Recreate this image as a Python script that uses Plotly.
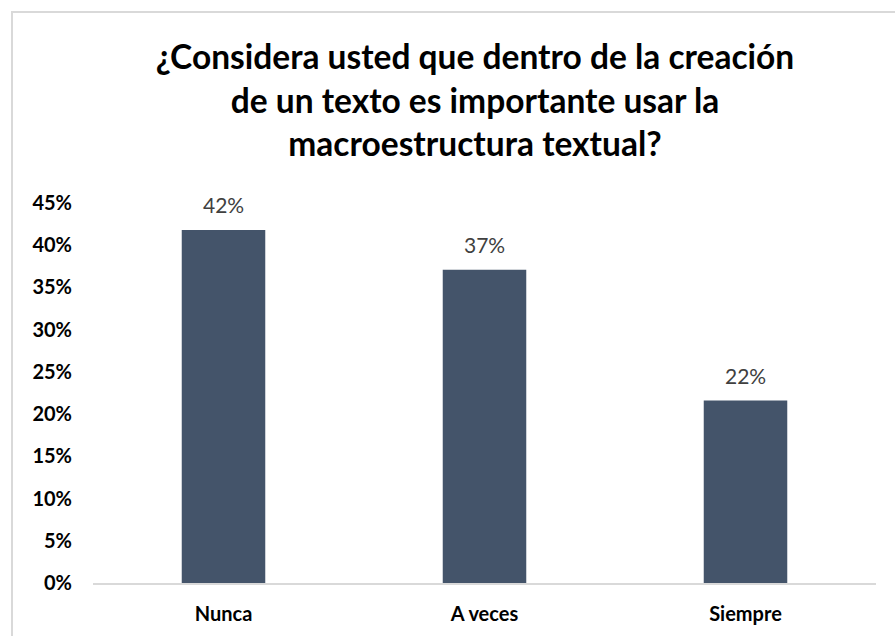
import plotly.graph_objects as go

categories = ["Nunca", "A veces", "Siempre"]
values = [0.418, 0.371, 0.216]
labels = ["42%", "37%", "22%"]
y_ticks = [0, 0.05, 0.10, 0.15, 0.20, 0.25, 0.30, 0.35, 0.40, 0.45]
y_ticktext = ["0%", "5%", "10%", "15%", "20%", "25%", "30%", "35%", "40%", "45%"]
title_text = ("¿Considera usted que dentro de la creación<br>"
              "de un texto es importante usar la<br>macroestructura textual?")

W, H = 895, 636
L, R, T, B = 93, 19, 203, 53
pw, ph = W - L - R, H - T - B

fig = go.Figure()
fig.add_trace(go.Bar(x=categories, y=values, marker=dict(color="#44546A", line=dict(width=0)),
                     hoverinfo="skip"))

for c, v, t in zip(categories, values, labels):
    fig.add_annotation(x=c, y=v, text=t, showarrow=False, yanchor="bottom", yshift=11,
                       font=dict(family="Lato", size=21, color="#404040"))

# chart border
fig.add_shape(type="rect", xref="paper", yref="paper",
              x0=(12 - L) / pw, x1=1.2, y0=-0.3, y1=(H - B - 12) / ph,
              line=dict(color="#D9D9D9", width=2), fillcolor="rgba(0,0,0,0)", layer="below")

fig.update_layout(
    width=W, height=H,
    margin=dict(l=L, r=R, t=T, b=B),
    paper_bgcolor="white", plot_bgcolor="white",
    bargap=0.68,
    showlegend=False,
    hovermode=False,
    title=dict(text=title_text, x=475 / W, xanchor="center", xref="container",
               y=1 - 69 / H, yanchor="middle", yref="container",
               font=dict(family="Lato", size=33.5, color="#000000", weight="bold")),
    xaxis=dict(showgrid=False, showline=True, linecolor="#D9D9D9", linewidth=2,
               ticks="", ticklabelstandoff=12,
               tickfont=dict(family="Lato", size=20, color="#000000", weight="bold")),
    yaxis=dict(range=[0, 0.45], tickvals=y_ticks, ticktext=y_ticktext, showgrid=False,
               showline=False, zeroline=False, ticks="", ticklabelstandoff=20,
               tickfont=dict(family="Lato", size=20, color="#000000", weight="bold")),
)

fig.write_html("out.html", config={"displayModeBar": False},
               post_script="document.body.style.margin='0';document.body.style.padding='0';"
                           "document.body.style.overflow='hidden';")
